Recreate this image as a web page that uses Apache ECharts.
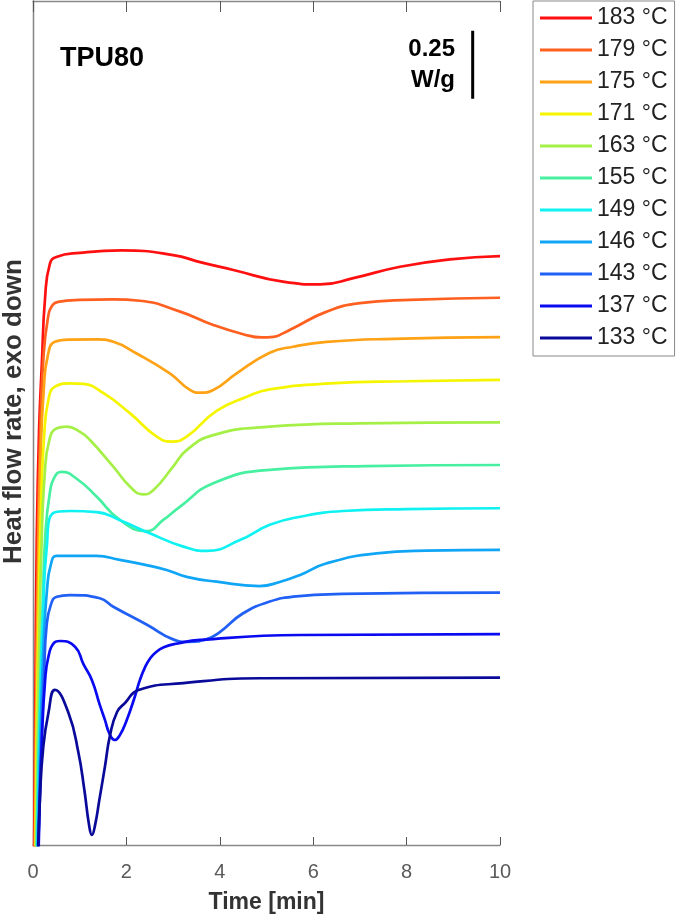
<!DOCTYPE html>
<html>
<head>
<meta charset="utf-8">
<title>TPU80</title>
<script src="https://cdn.jsdelivr.net/npm/echarts@6/dist/echarts.min.js"></script>
<style>
  html, body { margin: 0; padding: 0; background: #fff; }
  #main { width: 676px; height: 914px; }
</style>
</head>
<body>
<div id="main"></div>
<script>
// isothermal temperatures (legend order) and line colours
var temps = ['183 °C', '179 °C', '175 °C', '171 °C', '163 °C', '155 °C', '149 °C', '146 °C', '143 °C', '137 °C', '133 °C'];
var colors = ['#ff1010', '#ff5f1f', '#ffa216', '#f5f500', '#a5f046', '#46f0a0', '#10f2f2', '#10a5f5', '#2060f5', '#0a0af0', '#0a0a9a'];

// heat flow traces, [time (min), shifted heat flow (W/g)]
var curve183 = [[0.02,-0.081],[0.05,0.544],[0.08,1.132],[0.13,1.537],[0.19,1.783],[0.26,2.026],[0.36,2.147],[0.5,2.173],[1.0,2.188],[1.9,2.197],[3.0,2.180],[3.6,2.153],[4.29,2.125],[5.35,2.082],[6.15,2.072],[6.86,2.095],[7.86,2.137],[8.93,2.164],[10,2.176]];
var curve179 = [[0.03,-0.081],[0.06,0.471],[0.1,1.059],[0.15,1.5],[0.22,1.794],[0.32,1.949],[0.42,1.996],[0.54,2.008],[1.0,2.015],[1.72,2.017],[2.29,2.012],[3.15,1.972],[3.86,1.923],[4.5,1.889],[4.9,1.877],[5.15,1.879],[5.35,1.892],[5.57,1.911],[6.29,1.972],[7.0,2.003],[8.07,2.015],[10,2.023]];
var curve175 = [[0.04,-0.081],[0.07,0.471],[0.11,0.985],[0.16,1.426],[0.23,1.684],[0.32,1.813],[0.47,1.861],[0.8,1.869],[1.36,1.870],[1.72,1.861],[2.2,1.820],[2.93,1.745],[3.36,1.684],[3.58,1.674],[3.86,1.684],[4.36,1.745],[5.07,1.821],[5.57,1.843],[6.29,1.861],[7.72,1.872],[10,1.878]];
var curve171 = [[0.05,-0.081],[0.08,0.397],[0.12,0.838],[0.17,1.243],[0.24,1.518],[0.33,1.647],[0.47,1.696],[0.79,1.708],[1.08,1.706],[1.51,1.672],[2.08,1.598],[2.65,1.512],[2.97,1.494],[3.29,1.512],[3.93,1.607],[4.58,1.659],[5.07,1.686],[6.36,1.708],[8.0,1.716],[10,1.721]];
var curve163 = [[0.06,-0.081],[0.09,0.324],[0.13,0.728],[0.18,1.096],[0.25,1.371],[0.35,1.5],[0.51,1.543],[0.72,1.549],[1.0,1.531],[1.22,1.5],[1.72,1.402],[2.08,1.328],[2.36,1.300],[2.58,1.316],[3.0,1.402],[3.29,1.463],[3.86,1.518],[5.07,1.549],[7.0,1.561],[10,1.565]];
var curve155 = [[0.07,-0.081],[0.1,0.213],[0.15,0.581],[0.21,0.912],[0.27,1.169],[0.36,1.305],[0.45,1.360],[0.61,1.383],[0.97,1.353],[1.36,1.292],[1.86,1.206],[2.43,1.165],[2.79,1.206],[3.15,1.255],[3.86,1.341],[5.07,1.390],[7.14,1.404],[10,1.408]];
var curve149 = [[0.08,-0.081],[0.11,0.176],[0.16,0.544],[0.22,0.875],[0.29,1.096],[0.43,1.231],[0.8,1.239],[1.36,1.235],[1.9,1.202],[2.5,1.157],[3.22,1.108],[3.72,1.092],[4.43,1.132],[5.07,1.188],[5.72,1.218],[6.64,1.239],[8.0,1.246],[10,1.249]];
var curve146 = [[0.09,-0.081],[0.12,0.140],[0.17,0.471],[0.23,0.765],[0.3,0.949],[0.38,1.040],[0.51,1.074],[1.36,1.074],[1.86,1.059],[2.43,1.040],[2.86,1.022],[3.29,0.997],[3.93,0.979],[4.85,0.963],[5.3,0.979],[5.72,1.004],[6.29,1.047],[7.36,1.083],[8.43,1.093],[10,1.096]];
var curve143 = [[0.1,-0.081],[0.13,0.103],[0.18,0.397],[0.24,0.654],[0.29,0.814],[0.38,0.893],[0.51,0.924],[0.79,0.930],[1.43,0.918],[1.72,0.887],[2.45,0.820],[3.0,0.767],[3.3,0.758],[3.72,0.768],[4.0,0.794],[4.5,0.863],[5.07,0.906],[5.57,0.924],[6.64,0.934],[10,0.939]];
var curve137 = [[0.11,-0.081],[0.14,0.140],[0.19,0.397],[0.26,0.618],[0.33,0.703],[0.45,0.754],[0.58,0.761],[0.9,0.740],[1.08,0.676],[1.26,0.618],[1.43,0.526],[1.54,0.471],[1.64,0.419],[1.75,0.397],[1.86,0.415],[2.0,0.467],[2.18,0.556],[2.29,0.618],[2.4,0.665],[2.5,0.695],[2.62,0.718],[2.8,0.738],[3.1,0.752],[3.58,0.765],[5.72,0.783],[10,0.786]];
var curve133 = [[0.1,-0.081],[0.15,0.189],[0.22,0.372],[0.33,0.496],[0.47,0.581],[0.76,0.496],[0.97,0.353],[1.1,0.213],[1.2,0.085],[1.26,0.048],[1.33,0.085],[1.42,0.176],[1.54,0.299],[1.65,0.415],[1.8,0.5],[1.97,0.533],[2.26,0.581],[3.22,0.606],[4.86,0.624],[10,0.626]];

// 0.25 W/g scale bar
var scaleBar = [[9.415, 2.755], [9.415, 3.005]];

var curves = [curve183, curve179, curve175, curve171, curve163, curve155, curve149, curve146, curve143, curve137, curve133];
var font = 'Liberation Sans, Arial, Helvetica, sans-serif';

var series = curves.map(function (d, i) {
    return {
        name: temps[i],
        type: 'line',
        data: d,
        smooth: 0.5,
        showSymbol: false,
        symbol: 'none',
        itemStyle: { color: colors[i] },
        lineStyle: { color: colors[i], width: 2.7 }
    };
});
series.push({
    name: 'scale',
    type: 'line',
    data: scaleBar,
    symbol: 'none',
    silent: true,
    lineStyle: { color: '#000', width: 3 }
});

var myChart = echarts.init(document.getElementById('main'));
myChart.setOption({
    animation: false,
    backgroundColor: '#fff',
    grid: { left: 33, right: 176, top: 1, bottom: 69, outerBoundsMode: 'none' },
    legend: {
        data: temps,
        orient: 'vertical',
        left: 533,
        top: 1,
        padding: [5, 7, 6, 7],
        itemWidth: 52,
        itemHeight: 3,
        itemGap: 8,
        icon: 'rect',
        selectedMode: false,
        borderColor: '#888',
        borderWidth: 1,
        textStyle: { fontFamily: font, fontSize: 23, lineHeight: 24, color: '#222' }
    },
    xAxis: [{
        type: 'value',
        position: 'bottom',
        min: 0,
        max: 10,
        interval: 2,
        name: 'Time [min]',
        nameLocation: 'middle',
        nameGap: 46,
        nameTextStyle: { fontFamily: font, fontSize: 23, fontWeight: 'bold', color: '#333' },
        axisLine: { lineStyle: { color: '#888', width: 1.3 } },
        axisTick: { inside: true, length: 8, lineStyle: { color: '#555' } },
        axisLabel: { fontFamily: font, fontSize: 20, color: '#5a5a5a', margin: 17 },
        splitLine: { show: false }
    }, {
        type: 'value',
        position: 'top',
        min: 0,
        max: 10,
        interval: 2,
        axisLine: { lineStyle: { color: '#888', width: 1.3 } },
        axisTick: { inside: true, length: 11, lineStyle: { color: '#555' } },
        axisLabel: { show: false },
        splitLine: { show: false }
    }],
    yAxis: [{
        type: 'value',
        position: 'left',
        min: 0.011,
        max: 3.114,
        name: 'Heat flow rate, exo down',
        nameLocation: 'middle',
        nameGap: 6,
        nameTextStyle: { fontFamily: font, fontSize: 26, fontWeight: 'bold', color: '#333', padding: [0, 0, 0, 23] },
        axisLine: { show: true, lineStyle: { color: '#888', width: 1.3 } },
        axisTick: { show: false },
        axisLabel: { show: false },
        splitLine: { show: false }
    }, {
        type: 'value',
        position: 'right',
        min: 0.011,
        max: 3.114,
        axisLine: { show: true, lineStyle: { color: '#888', width: 1.3 } },
        axisTick: { show: false },
        axisLabel: { show: false },
        splitLine: { show: false }
    }],
    graphic: [
        { type: 'text', left: 60, top: 45, style: { text: 'TPU80', fontFamily: font, fontSize: 27, fontWeight: 'bold', fill: '#000' } },
        { type: 'text', right: 221, top: 37, style: { text: '0.25', fontFamily: font, fontSize: 24, fontWeight: 'bold', fill: '#000' } },
        { type: 'text', right: 221, top: 68, style: { text: 'W/g', fontFamily: font, fontSize: 24, fontWeight: 'bold', fill: '#000' } }
    ],
    series: series
});
</script>
</body>
</html>
